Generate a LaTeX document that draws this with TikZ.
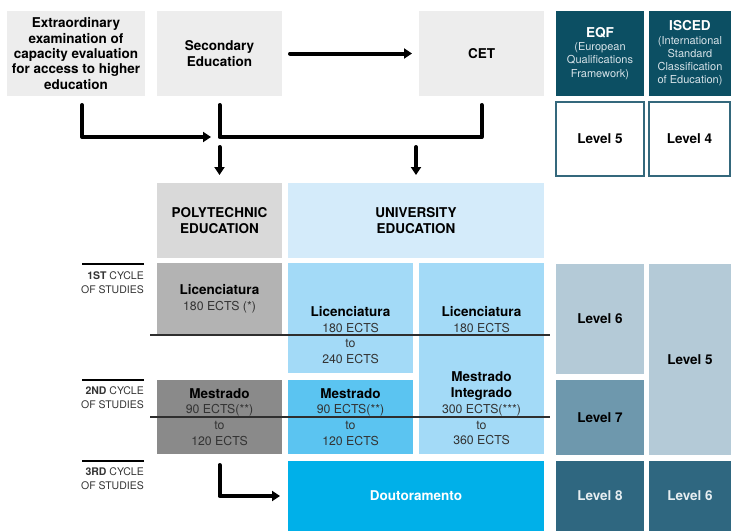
\documentclass[tikz,border=0pt]{standalone}
\usepackage{fontspec}
\setmainfont{TeX Gyre Heros}
\usetikzlibrary{positioning, arrows.meta}
\definecolor{paleGrey}{RGB}{237,237,237}
\definecolor{headGrey}{RGB}{217,217,217}
\definecolor{licGrey}{RGB}{179,179,179}
\definecolor{mesGrey}{RGB}{138,138,138}
\definecolor{headBlue}{RGB}{212,235,250}
\definecolor{licBlue}{RGB}{163,218,247}
\definecolor{mesBlue}{RGB}{91,196,241}
\definecolor{phdBlue}{RGB}{0,176,233}
\definecolor{frameTeal}{RGB}{12,79,99}
\definecolor{borderTeal}{RGB}{52,104,124}
\definecolor{levelLight}{RGB}{180,202,215}
\definecolor{levelMid}{RGB}{110,152,173}
\definecolor{levelDark}{RGB}{47,103,128}
\definecolor{textGrey}{RGB}{51,51,51}
\definecolor{subWhite}{RGB}{214,226,232}
\tikzstyle{chart} = [x = 1pt, y = -1pt]
\tikzstyle{cellStyle} = [inner sep = 0, outer sep = 0, align = center, text = black, font = \fontsize{12.3}{15.7}\selectfont]
\tikzstyle{boldBlock} = [font = \fontsize{13.5}{15.3}\selectfont\bfseries]
\tikzstyle{paleBox} = [fill = paleGrey, boldBlock]
\tikzstyle{tealHead} = [fill = frameTeal, text = subWhite, font = \fontsize{11}{13.2}\selectfont]
\tikzstyle{levelFrame} = [fill = white, draw = borderTeal, line width = 1.5pt, boldBlock]
\tikzstyle{bodyText} = [text = textGrey]
\tikzstyle{flowLine} = [line width = 4pt, line cap = round, line join = round]
\tikzstyle{flowArrow} = [flowLine, -{Triangle[length = 8pt, width = 10pt]}]
\tikzstyle{cycleLabel} = [inner sep = 0, align = right, text = textGrey, font = \fontsize{10.5}{14}\selectfont]
\tikzstyle{cycleRule} = [line width = 2pt]
\tikzstyle{dividerLine} = [color = textGrey!90!black, line width = 1.3pt]
\newcommand{\boldLine}[1]{{\color{black}\fontsize{13.5}{15.7}\selectfont\bfseries #1}}
\newcommand{\headLine}[1]{{\color{white}\fontsize{13.6}{13.2}\selectfont\bfseries #1}}
\newcommand{\cellBox}[7]{\node [cellStyle, #2, minimum width = #5 - #3, minimum height = #6 - #4] (#1) at ({(#3 + #5) / 2}, {(#4 + #6) / 2}) {#7};}

\begin{document}
\begin{tikzpicture}[chart]
        \useasboundingbox (0,0) rectangle (731,531);

        % access routes
        \cellBox{ext}{paleBox}{7}{11}{145}{96}{Extraordinary\\examination of\\capacity evaluation\\for access to higher\\education}
        \cellBox{sec}{paleBox}{157}{11}{282}{96}{Secondary\\Education}
        \cellBox{cet}{paleBox}{419}{11}{544}{96}{CET}

        % frameworks
        \cellBox{eqfHead}{tealHead}{556}{11}{644}{96}{\headLine{EQF}\\(European\\Qualifications\\Framework)}
        \cellBox{iscedHead}{tealHead}{649}{11}{731}{96}{\headLine{ISCED}\\(International\\Standard\\Classification\\of Education)}
        \cellBox{eqfFive}{levelFrame}{556}{102}{644}{176}{Level 5}
        \cellBox{iscedFour}{levelFrame}{649}{102}{730}{176}{Level 4}

        % higher education
        \cellBox{poly}{fill = headGrey, boldBlock}{157}{183}{282}{258}{POLYTECHNIC\\EDUCATION}
        \cellBox{univ}{fill = headBlue, boldBlock}{288}{183}{544}{258}{UNIVERSITY\\EDUCATION}
        \cellBox{polyLic}{fill = licGrey, bodyText}{157}{263}{282}{335}{\boldLine{Licenciatura}\\180 ECTS (*)}
        \cellBox{uniLic}{fill = licBlue}{288}{263}{413}{373}{}
        \cellBox{uniInt}{fill = licBlue}{419}{263}{544}{454}{}
        \cellBox{polyMes}{fill = mesGrey, bodyText}{157}{380}{282}{454}{\boldLine{Mestrado}\\90 ECTS(**)\\to\\120 ECTS}
        \cellBox{uniMes}{fill = mesBlue, bodyText}{288}{380}{413}{454}{\boldLine{Mestrado}\\90 ECTS(**)\\to\\120 ECTS}
        \cellBox{phd}{fill = phdBlue, boldBlock, text = white}{288}{461}{544}{531}{Doutoramento}
        \node [cellStyle, bodyText] (uniLicText) at (350.5, 335) {\boldLine{Licenciatura}\\180 ECTS\\to\\240 ECTS};
        \node [cellStyle, bodyText] (uniIntLic) at (481.5, 319.5) {\boldLine{Licenciatura}\\180 ECTS};
        \node [cellStyle, bodyText] (uniIntMes) at (481.5, 408.5) {\boldLine{Mestrado}\\\boldLine{Integrado}\\300 ECTS(***)\\to\\360 ECTS};

        % levels
        \cellBox{eqfSix}{fill = levelLight, boldBlock}{556}{264}{644}{374}{Level 6}
        \cellBox{eqfSeven}{fill = levelMid, boldBlock}{556}{380}{644}{455}{Level 7}
        \cellBox{iscedFive}{fill = levelLight, boldBlock}{649}{264}{731}{455}{Level 5}
        \cellBox{eqfEight}{fill = levelDark, boldBlock, text = subWhite!60!white}{556}{461}{644}{531}{Level 8}
        \cellBox{iscedSix}{fill = levelDark, boldBlock, text = subWhite!60!white}{649}{461}{731}{531}{Level 6}

        % cycles
        \node [cycleLabel, anchor = north east] (cycleOne) at (144, 271.5) {\textbf{1ST} CYCLE\\OF STUDIES};
        \node [cycleLabel, anchor = north east] (cycleTwo) at (144, 386.5) {\textbf{2ND} CYCLE\\OF STUDIES};
        \node [cycleLabel, anchor = north east] (cycleThree) at (144, 467.5) {\textbf{3RD} CYCLE\\OF STUDIES};
        \draw [cycleRule] ([yshift = 7.5pt]cycleOne.north east) -- ++(-62, 0);
        \draw [cycleRule] ([yshift = 7pt]cycleTwo.north east) -- ++(-62, 0);
        \draw [cycleRule] ([yshift = 7pt]cycleThree.north east) -- ++(-62, 0);
        \draw [dividerLine] ([xshift = -7pt]polyLic.south west) -- ([xshift = -6pt]polyLic.south west -| eqfSix.west);
        \draw [dividerLine] ([xshift = -7pt]polyMes.west) -- ([xshift = -6pt]polyMes.west -| eqfSeven.west);

        % arrows
        \coordinate (junction) at (219.5, 137);
        \draw [flowArrow, shorten <= 8pt, shorten >= 7pt] (sec.east) -- (cet.west);
        \draw [flowArrow, shorten >= 8.5pt] ([xshift = 6pt, yshift = -9pt]ext.south) |- (junction);
        \draw [flowLine] ([yshift = -9pt]sec.south) -- (junction) -| ([yshift = -9pt]cet.south);
        \draw [flowArrow, shorten <= 10pt, shorten >= 8pt] (junction) -- (poly.north);
        \draw [flowArrow, shorten <= 10pt, shorten >= 8pt] (univ.north |- junction) -- (univ.north);
        \draw [flowArrow, shorten <= 11pt, shorten >= 8pt] (polyMes.south) |- (phd.west);
\end{tikzpicture}
\end{document}
